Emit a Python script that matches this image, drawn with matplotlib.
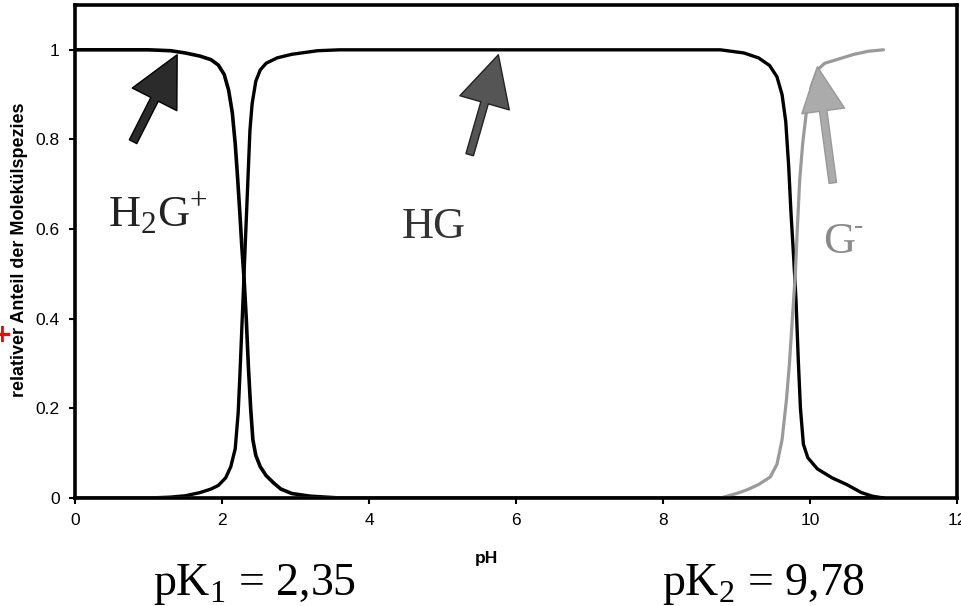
import matplotlib
matplotlib.use("Agg")
import matplotlib.pyplot as plt

# ---- data ----
ph_h2g = [0, 1.0, 1.3, 1.5, 1.7, 1.85, 1.95, 2.03, 2.09, 2.14, 2.18, 2.21, 2.245, 2.27, 2.30,
          2.33, 2.36, 2.39, 2.42, 2.46, 2.52, 2.6, 2.7, 2.8, 2.95, 3.2, 3.6, 11.0]
fr_h2g = [1.0, 1.0, 0.998, 0.993, 0.986, 0.978, 0.966, 0.945, 0.91, 0.86, 0.79, 0.72, 0.63, 0.56, 0.49,
          0.40, 0.29, 0.20, 0.13, 0.095, 0.07, 0.05, 0.034, 0.02, 0.01, 0.004, 0.0, 0.0]

ph_hg = [0, 1.0, 1.3, 1.5, 1.7, 1.85, 1.95, 2.05, 2.12, 2.18, 2.22, 2.245, 2.27, 2.30, 2.33, 2.36,
         2.38, 2.41, 2.46, 2.52, 2.6, 2.75, 2.95, 3.3, 3.6,
         8.78, 9.1, 9.3, 9.45, 9.55, 9.62, 9.67, 9.71, 9.74, 9.78, 9.81, 9.84, 9.87, 9.91, 9.97,
         10.1, 10.3, 10.5, 10.7, 10.85, 11.0]
fr_hg = [0.0, 0.0, 0.002, 0.005, 0.012, 0.02, 0.028, 0.045, 0.07, 0.11, 0.19, 0.28, 0.38, 0.50, 0.62, 0.74,
         0.82, 0.88, 0.93, 0.955, 0.97, 0.982, 0.99, 0.998, 1.0,
         1.0, 0.993, 0.982, 0.965, 0.94, 0.90, 0.84, 0.74, 0.64, 0.53, 0.44, 0.31, 0.20, 0.12, 0.09,
         0.065, 0.045, 0.03, 0.012, 0.004, 0.0]

ph_g = [0, 8.78, 9.0, 9.14, 9.3, 9.46, 9.55, 9.62, 9.68, 9.72, 9.76, 9.80, 9.83, 9.86, 9.9, 9.95,
        10.02, 10.1, 10.2, 10.4, 10.6, 10.8, 11.0]
fr_g = [0.0, 0.0, 0.01, 0.018, 0.03, 0.047, 0.075, 0.13, 0.22, 0.30, 0.40, 0.50, 0.61, 0.71, 0.79, 0.86,
        0.92, 0.955, 0.97, 0.98, 0.99, 0.997, 1.0]

xticks = [0, 2, 4, 6, 8, 10, 12]
yticks = [0, 0.2, 0.4, 0.6, 0.8, 1.0]
yticklabels = ["0", "0.2", "0.4", "0.6", "0.8", "1"]

species_labels = [r"H$_\mathregular{2}$G$^\mathregular{+}$", "HG", "G"]
pk_labels = [r"pK$_\mathregular{1}$ = 2,35", r"pK$_\mathregular{2}$ = 9,78"]
xlabel = "pH"
ylabel = "relativer Anteil der Molekülspezies"

# ---- figure ----
fig = plt.figure(figsize=(9.61, 6.06), dpi=100)
ax = fig.add_axes([75 / 961, 1 - 498 / 606, 882 / 961, 493 / 606])

ax.plot(ph_h2g, fr_h2g, color="black", lw=2.6, solid_capstyle="round", solid_joinstyle="round")
ax.plot(ph_hg, fr_hg, color="black", lw=2.4, solid_capstyle="round", solid_joinstyle="round")
ax.plot(ph_g, fr_g, color="#9a9a9a", lw=2.3, solid_capstyle="round", solid_joinstyle="round")

ax.set_xlim(0, 12)
ax.set_ylim(0, 1.1)
ax.set_xticks(xticks)
ax.set_xticklabels([str(t) for t in xticks], fontsize=12.5, family="Liberation Sans")
ax.set_yticks(yticks)
ax.set_yticklabels(yticklabels, fontsize=12.5, family="Liberation Sans")
ax.tick_params(direction="out", length=4, width=1.5, pad=7)
for s in ax.spines.values():
    s.set_linewidth(2.6)

# arrows
def arrow(tail, tip, fc, ec, hl, hw, tw):
    ax.annotate("", xy=tip, xytext=tail,
                arrowprops=dict(arrowstyle=f"simple,head_length={hl},head_width={hw},tail_width={tw}",
                                fc=fc, ec=ec, lw=1.0, shrinkA=0, shrinkB=0, mutation_scale=20))

arrow((0.79, 0.795), (1.39, 0.989), "#2b2b2b", "black", 1.8, 1.8, 0.3)
arrow((5.37, 0.766), (5.76, 0.989), "#555555", "#222222", 1.8, 1.85, 0.28)
arrow((10.31, 0.703), (10.10, 0.962), "#ababab", "#999999", 1.6, 1.55, 0.27)

serif = "Liberation Serif"
ax.text(0.45, 0.605, species_labels[0], family=serif, fontsize=32, color="#222222", ha="left", va="baseline")
ax.text(4.45, 0.58, species_labels[1], family=serif, fontsize=32, color="#333333", ha="left", va="baseline")
ax.text(10.18, 0.547, species_labels[2], family=serif, fontsize=32, color="#8a8a8a", ha="left", va="baseline")
ax.annotate("-", xy=(10.18, 0.547), xytext=(22, 14), textcoords="offset points",
            family=serif, fontsize=20, color="#8a8a8a", ha="left", va="baseline")

fig.text(153 / 961, 1 - 595 / 606, pk_labels[0], family=serif, fontsize=33, ha="left", va="baseline")
fig.text(662 / 961, 1 - 595 / 606, pk_labels[1], family=serif, fontsize=33, ha="left", va="baseline")

fig.text(486 / 961, 1 - 558 / 606, xlabel, family="Liberation Sans", fontweight="bold",
         fontsize=12.5, ha="center", va="center")
fig.text(20 / 961, 1 - 250 / 606, ylabel, family="Liberation Sans", fontweight="bold",
         fontsize=13, rotation=90, ha="center", va="center")
fig.text(2 / 961, 1 - 335 / 606, "+", color="red", fontsize=18, fontweight="bold",
         family="DejaVu Sans", ha="center", va="center")

fig.savefig("out.png", dpi=100)
